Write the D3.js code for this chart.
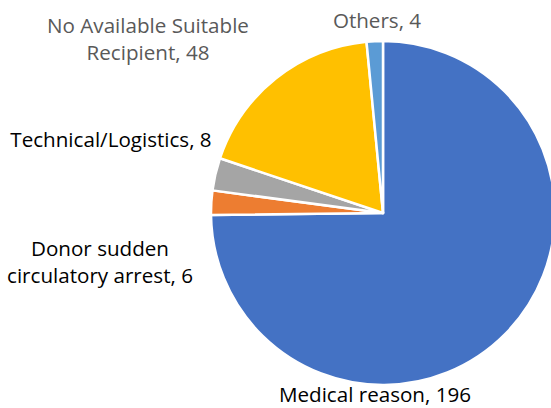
<!DOCTYPE html>
<html lang="en">
<head>
<meta charset="UTF-8">
<title>Pie chart</title>
<script src="https://d3js.org/d3.v7.min.js"></script>
<style>
  body { margin: 0; background: #fff; }
  svg text { font-family: "Open Sans", "Noto Sans", sans-serif; font-size: 20.6px; }
</style>
</head>
<body>
<svg id="chart" width="551" height="408"></svg>
<script>
const categories = ["Medical reason", "Donor sudden circulatory arrest", "Technical/Logistics", "No Available Suitable Recipient", "Others"];
const values = [196, 6, 8, 48, 4];
const colors = ["#4472C4", "#ED7D31", "#A5A5A5", "#FFC000", "#5B9BD5"];
const labelLines = [
  ["Medical reason, 196"],
  ["Donor sudden", "circulatory arrest, 6"],
  ["Technical/Logistics, 8"],
  ["No Available Suitable", "Recipient, 48"],
  ["Others, 4"]
];
const labelColors = ["#000", "#000", "#000", "#595959", "#595959"];
// label anchor points (centre x, first baseline y)
const labelPos = [[375, 402], [100, 256], [111, 147], [148, 33], [377, 28]];

const svg = d3.select("#chart");
const cx = 383, cy = 213, r = 172;

const data = categories.map((c, i) => ({ name: c, value: values[i], i }));
const pie = d3.pie().value(d => d.value).sort(null);
const arc = d3.arc().innerRadius(0).outerRadius(r);

const g = svg.append("g").attr("transform", `translate(${cx},${cy})`);
g.selectAll("path")
  .data(pie(data))
  .enter()
  .append("path")
  .attr("d", arc)
  .attr("fill", d => colors[d.data.i])
  .attr("stroke", "#fff")
  .attr("stroke-width", 2.5)
  .attr("stroke-linejoin", "round");

data.forEach(d => {
  const t = svg.append("text")
    .attr("text-anchor", "middle")
    .attr("fill", labelColors[d.i]);
  labelLines[d.i].forEach((line, k) => {
    t.append("tspan")
      .attr("x", labelPos[d.i][0])
      .attr("y", labelPos[d.i][1] + k * 27)
      .text(line);
  });
});
</script>
</body>
</html>
